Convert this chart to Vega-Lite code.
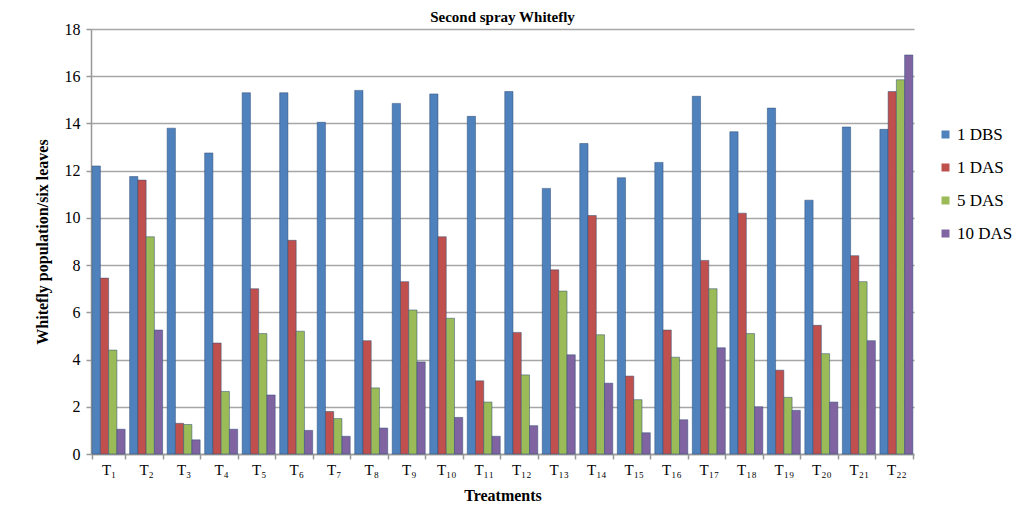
{
  "$schema": "https://vega.github.io/schema/vega-lite/v6.json",
  "autosize": {"type": "none"},
  "width": 823,
  "height": 425,
  "padding": {"left": 91, "top": 29, "right": 119, "bottom": 65},
  "background": "white",
  "title": {"text": "Second spray Whitefly", "font": "Liberation Serif", "fontSize": 15, "fontWeight": "bold", "color": "black", "frame": "group", "offset": -4, "anchor": "middle"},
  "config": {"view": {"stroke": null}, "font": "Liberation Serif", "legend": {"labelFont": "Times New Roman, Liberation Serif, serif"}},
  "data": {"values": [
    {"t":"T₁","s":"1 DBS","v":12.2},{"t":"T₁","s":"1 DAS","v":7.45},{"t":"T₁","s":"5 DAS","v":4.4},{"t":"T₁","s":"10 DAS","v":1.05},
    {"t":"T₂","s":"1 DBS","v":11.75},{"t":"T₂","s":"1 DAS","v":11.6},{"t":"T₂","s":"5 DAS","v":9.2},{"t":"T₂","s":"10 DAS","v":5.25},
    {"t":"T₃","s":"1 DBS","v":13.8},{"t":"T₃","s":"1 DAS","v":1.3},{"t":"T₃","s":"5 DAS","v":1.25},{"t":"T₃","s":"10 DAS","v":0.6},
    {"t":"T₄","s":"1 DBS","v":12.75},{"t":"T₄","s":"1 DAS","v":4.7},{"t":"T₄","s":"5 DAS","v":2.65},{"t":"T₄","s":"10 DAS","v":1.05},
    {"t":"T₅","s":"1 DBS","v":15.3},{"t":"T₅","s":"1 DAS","v":7.0},{"t":"T₅","s":"5 DAS","v":5.1},{"t":"T₅","s":"10 DAS","v":2.5},
    {"t":"T₆","s":"1 DBS","v":15.3},{"t":"T₆","s":"1 DAS","v":9.05},{"t":"T₆","s":"5 DAS","v":5.2},{"t":"T₆","s":"10 DAS","v":1.0},
    {"t":"T₇","s":"1 DBS","v":14.05},{"t":"T₇","s":"1 DAS","v":1.8},{"t":"T₇","s":"5 DAS","v":1.5},{"t":"T₇","s":"10 DAS","v":0.75},
    {"t":"T₈","s":"1 DBS","v":15.4},{"t":"T₈","s":"1 DAS","v":4.8},{"t":"T₈","s":"5 DAS","v":2.8},{"t":"T₈","s":"10 DAS","v":1.1},
    {"t":"T₉","s":"1 DBS","v":14.85},{"t":"T₉","s":"1 DAS","v":7.3},{"t":"T₉","s":"5 DAS","v":6.1},{"t":"T₉","s":"10 DAS","v":3.9},
    {"t":"T₁₀","s":"1 DBS","v":15.25},{"t":"T₁₀","s":"1 DAS","v":9.2},{"t":"T₁₀","s":"5 DAS","v":5.75},{"t":"T₁₀","s":"10 DAS","v":1.55},
    {"t":"T₁₁","s":"1 DBS","v":14.3},{"t":"T₁₁","s":"1 DAS","v":3.1},{"t":"T₁₁","s":"5 DAS","v":2.2},{"t":"T₁₁","s":"10 DAS","v":0.75},
    {"t":"T₁₂","s":"1 DBS","v":15.35},{"t":"T₁₂","s":"1 DAS","v":5.15},{"t":"T₁₂","s":"5 DAS","v":3.35},{"t":"T₁₂","s":"10 DAS","v":1.2},
    {"t":"T₁₃","s":"1 DBS","v":11.25},{"t":"T₁₃","s":"1 DAS","v":7.8},{"t":"T₁₃","s":"5 DAS","v":6.9},{"t":"T₁₃","s":"10 DAS","v":4.2},
    {"t":"T₁₄","s":"1 DBS","v":13.15},{"t":"T₁₄","s":"1 DAS","v":10.1},{"t":"T₁₄","s":"5 DAS","v":5.05},{"t":"T₁₄","s":"10 DAS","v":3.0},
    {"t":"T₁₅","s":"1 DBS","v":11.7},{"t":"T₁₅","s":"1 DAS","v":3.3},{"t":"T₁₅","s":"5 DAS","v":2.3},{"t":"T₁₅","s":"10 DAS","v":0.9},
    {"t":"T₁₆","s":"1 DBS","v":12.35},{"t":"T₁₆","s":"1 DAS","v":5.25},{"t":"T₁₆","s":"5 DAS","v":4.1},{"t":"T₁₆","s":"10 DAS","v":1.45},
    {"t":"T₁₇","s":"1 DBS","v":15.15},{"t":"T₁₇","s":"1 DAS","v":8.2},{"t":"T₁₇","s":"5 DAS","v":7.0},{"t":"T₁₇","s":"10 DAS","v":4.5},
    {"t":"T₁₈","s":"1 DBS","v":13.65},{"t":"T₁₈","s":"1 DAS","v":10.2},{"t":"T₁₈","s":"5 DAS","v":5.1},{"t":"T₁₈","s":"10 DAS","v":2.0},
    {"t":"T₁₉","s":"1 DBS","v":14.65},{"t":"T₁₉","s":"1 DAS","v":3.55},{"t":"T₁₉","s":"5 DAS","v":2.4},{"t":"T₁₉","s":"10 DAS","v":1.85},
    {"t":"T₂₀","s":"1 DBS","v":10.75},{"t":"T₂₀","s":"1 DAS","v":5.45},{"t":"T₂₀","s":"5 DAS","v":4.25},{"t":"T₂₀","s":"10 DAS","v":2.2},
    {"t":"T₂₁","s":"1 DBS","v":13.85},{"t":"T₂₁","s":"1 DAS","v":8.4},{"t":"T₂₁","s":"5 DAS","v":7.3},{"t":"T₂₁","s":"10 DAS","v":4.8},
    {"t":"T₂₂","s":"1 DBS","v":13.75},{"t":"T₂₂","s":"1 DAS","v":15.35},{"t":"T₂₂","s":"5 DAS","v":15.85},{"t":"T₂₂","s":"10 DAS","v":16.9}
  ]},
  "mark": {"type": "bar", "stroke": "#2c4d75", "strokeWidth": 0.5},
  "encoding": {
    "x": {
      "field": "t", "type": "nominal", "sort": null,
      "scale": {"paddingInner": 0.12, "paddingOuter": 0.03},
      "axis": {
        "title": "Treatments", "titleFont": "Liberation Serif", "titleFontSize": 16, "titleFontWeight": "bold", "titleColor": "black", "titlePadding": 10,
        "labelAngle": 0, "labelFont": "Liberation Serif", "labelFontSize": 15, "labelColor": "black", "labelPadding": 3,
        "domainColor": "#999999", "domainWidth": 1.5, "tickColor": "#999999", "tickWidth": 1.5, "tickSize": 5, "tickBand": "extent"
      }
    },
    "xOffset": {"field": "s", "type": "nominal", "sort": ["1 DBS", "1 DAS", "5 DAS", "10 DAS"], "scale": {"paddingInner": 0}},
    "y": {
      "field": "v", "type": "quantitative",
      "scale": {"domain": [0, 18], "nice": false},
      "axis": {
        "title": "Whitefly population/six leaves", "titleFont": "Liberation Serif", "titleFontSize": 16, "titleFontWeight": "bold", "titleColor": "black", "titlePadding": 14,
        "values": [0, 2, 4, 6, 8, 10, 12, 14, 16, 18],
        "labelFont": "Liberation Serif", "labelFontSize": 16, "labelColor": "black", "labelPadding": 6,
        "grid": true, "gridColor": "#a6a6a6", "gridWidth": 1.5,
        "domainColor": "#999999", "domainWidth": 1.5, "tickColor": "#999999", "tickWidth": 1.5, "tickSize": 5
      }
    },
    "color": {
      "field": "s", "type": "nominal",
      "sort": ["1 DBS", "1 DAS", "5 DAS", "10 DAS"],
      "scale": {"domain": ["1 DBS", "1 DAS", "5 DAS", "10 DAS"], "range": ["#4F81BD", "#C0504D", "#9BBB59", "#8064A2"]},
      "legend": {
        "title": null, "orient": "none", "legendX": 846, "legendY": 97,
        "symbolType": "square", "symbolSize": 64, "symbolStrokeWidth": 0,
        "labelFont": "Times New Roman, Liberation Serif, serif", "labelFontSize": 17, "labelColor": "black",
        "rowPadding": 15, "labelOffset": 3
      }
    }
  }
}
